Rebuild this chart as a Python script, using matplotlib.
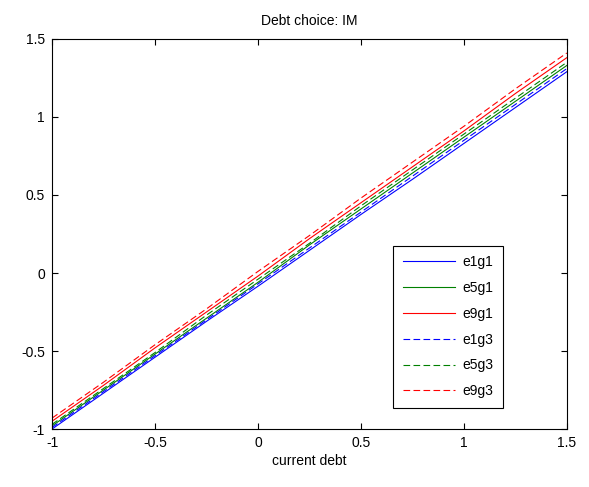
import numpy as np
import matplotlib.pyplot as plt

plt.rcParams['font.family'] = ['Liberation Sans', 'DejaVu Sans']

# current debt grid
debt = [-1.0, -0.75, -0.5, -0.25, 0.0, 0.25, 0.5, 0.75, 1.0, 1.25, 1.5]

# debt choice for each (e, g) state
e1g1 = [-1.00, -0.77, -0.54, -0.31, -0.085, 0.145, 0.375, 0.60, 0.83, 1.06, 1.29]
e5g1 = [-0.98, -0.75, -0.52, -0.29, -0.06, 0.18, 0.41, 0.64, 0.87, 1.10, 1.33]
e9g1 = [-0.95, -0.72, -0.48, -0.25, -0.02, 0.22, 0.45, 0.68, 0.91, 1.15, 1.38]
e1g3 = [-0.99, -0.76, -0.53, -0.30, -0.07, 0.16, 0.39, 0.62, 0.85, 1.08, 1.31]
e5g3 = [-0.97, -0.74, -0.51, -0.27, -0.04, 0.19, 0.43, 0.66, 0.89, 1.12, 1.35]
e9g3 = [-0.93, -0.70, -0.46, -0.23, 0.01, 0.24, 0.48, 0.71, 0.94, 1.18, 1.41]

fig = plt.figure(figsize=(5.89, 4.87), dpi=100)
ax = fig.add_axes([0.0883, 0.119, 0.874, 0.801])

green = (0, 0.5, 0)
ax.plot(debt, e1g1, color='b', lw=0.8, label='e1g1')
ax.plot(debt, e5g1, color=green, lw=0.8, label='e5g1')
ax.plot(debt, e9g1, color='r', lw=0.8, label='e9g1')
ax.plot(debt, e1g3, color='b', lw=0.8, ls=(0, (6, 3)), label='e1g3')
ax.plot(debt, e5g3, color=green, lw=0.8, ls=(0, (6, 3)), label='e5g3')
ax.plot(debt, e9g3, color='r', lw=0.8, ls=(0, (6, 3)), label='e9g3')

ax.set_xlim(-1, 1.5)
ax.set_ylim(-1, 1.5)
ax.set_xticks([-1, -0.5, 0, 0.5, 1, 1.5])
ax.set_yticks([-1, -0.5, 0, 0.5, 1, 1.5])
ax.set_xticklabels(['-1', '-0.5', '0', '0.5', '1', '1.5'])
ax.set_yticklabels(['-1', '-0.5', '0', '0.5', '1', '1.5'])
ax.tick_params(direction='in', top=True, right=True, length=4, labelsize=10, pad=5)
for s in ax.spines.values():
    s.set_linewidth(0.8)

ax.set_title('Debt choice: IM', fontsize=10, pad=10)
ax.set_xlabel('current debt', fontsize=10, labelpad=3)

leg = ax.legend(loc='lower left', bbox_to_anchor=(0.662, 0.054), borderaxespad=0,
                fontsize=10, handlelength=3.8, labelspacing=0.85, fancybox=False,
                edgecolor='black', framealpha=1, handletextpad=0.5, borderpad=0.7)
leg.get_frame().set_linewidth(0.8)

plt.savefig('out.png', dpi=100)
